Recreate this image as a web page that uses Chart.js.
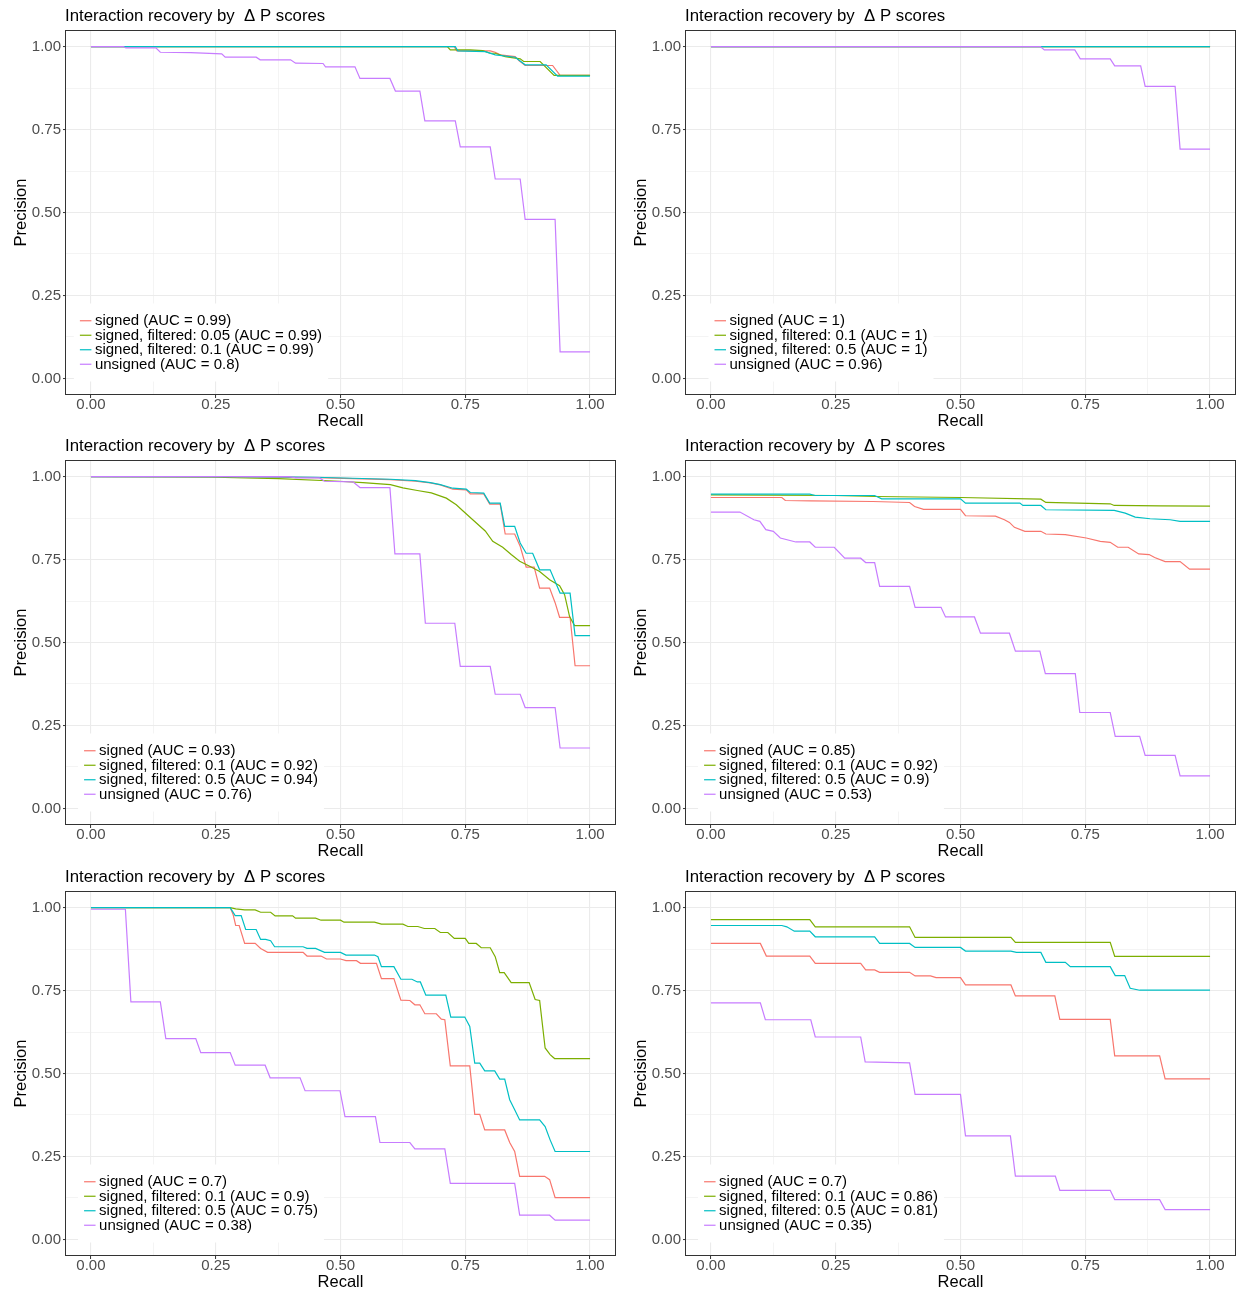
<!DOCTYPE html>
<html>
<head>
<meta charset="utf-8">
<title>Interaction recovery by Δ P scores</title>
<script src="https://cdn.jsdelivr.net/npm/chart.js@4.4.1/dist/chart.umd.min.js"></script>
<style>
  html, body { margin: 0; padding: 0; background: #fff; }
  #grid { position: relative; width: 1238px; height: 1291px; overflow: hidden; }
  .panel { position: absolute; }
</style>
</head>
<body>
<div id="grid"></div>
<script>
// six precision/recall panels, ggplot look
const FONT = '"Liberation Sans", Arial, sans-serif';
const TITLE = 'Interaction recovery by  \u0394 P scores';
const COLORS = ['#F8766D', '#7CAE00', '#00BFC4', '#C77CFF'];
const MAJOR_TICKS = [0, 0.25, 0.5, 0.75, 1];
const TICK_LABELS = ['0.00', '0.25', '0.50', '0.75', '1.00'];

// legend labels per panel
const p1Labels = ['signed (AUC = 0.99)', 'signed, filtered: 0.05 (AUC = 0.99)', 'signed, filtered: 0.1 (AUC = 0.99)', 'unsigned (AUC = 0.8)'];
const p2Labels = ['signed (AUC = 1)', 'signed, filtered: 0.1 (AUC = 1)', 'signed, filtered: 0.5 (AUC = 1)', 'unsigned (AUC = 0.96)'];
const p3Labels = ['signed (AUC = 0.93)', 'signed, filtered: 0.1 (AUC = 0.92)', 'signed, filtered: 0.5 (AUC = 0.94)', 'unsigned (AUC = 0.76)'];
const p4Labels = ['signed (AUC = 0.85)', 'signed, filtered: 0.1 (AUC = 0.92)', 'signed, filtered: 0.5 (AUC = 0.9)', 'unsigned (AUC = 0.53)'];
const p5Labels = ['signed (AUC = 0.7)', 'signed, filtered: 0.1 (AUC = 0.9)', 'signed, filtered: 0.5 (AUC = 0.75)', 'unsigned (AUC = 0.38)'];
const p6Labels = ['signed (AUC = 0.7)', 'signed, filtered: 0.1 (AUC = 0.86)', 'signed, filtered: 0.5 (AUC = 0.81)', 'unsigned (AUC = 0.35)'];

// [recall, precision] pairs
const p1Signed = [[0,1],[0.728,1],[0.733,0.987],[0.80,0.987],[0.81,0.983],[0.82,0.975],[0.85,0.97],[0.858,0.957],[0.87,0.943],[0.925,0.943],[0.94,0.913],[1,0.913]];
const p1Filt05 = [[0,1],[0.714,1],[0.72,0.99],[0.76,0.99],[0.785,0.988],[0.8,0.98],[0.81,0.98],[0.83,0.97],[0.86,0.963],[0.867,0.955],[0.9,0.955],[0.928,0.913],[1,0.913]];
const p1Filt01 = [[0,1],[0.73,1],[0.735,0.987],[0.79,0.985],[0.81,0.975],[0.85,0.968],[0.87,0.945],[0.912,0.945],[0.935,0.911],[1,0.911]];
const p1Unsigned = [[0,1],[0.065,1],[0.07,0.996],[0.13,0.996],[0.139,0.983],[0.2,0.982],[0.262,0.978],[0.269,0.968],[0.331,0.968],[0.339,0.96],[0.40,0.96],[0.41,0.95],[0.465,0.949],[0.47,0.939],[0.529,0.939],[0.539,0.904],[0.599,0.904],[0.61,0.866],[0.659,0.866],[0.669,0.776],[0.73,0.776],[0.74,0.698],[0.80,0.698],[0.81,0.601],[0.86,0.601],[0.87,0.479],[0.93,0.479],[0.94,0.08],[1,0.08]];

const p2Signed = [[0,1],[1,1]];
const p2Filt01 = [[0,1],[1,1]];
const p2Filt05 = [[0,1],[1,1]];
const p2Unsigned = [[0,1],[0.66,1],[0.668,0.99],[0.729,0.99],[0.74,0.963],[0.80,0.963],[0.809,0.942],[0.861,0.942],[0.87,0.88],[0.93,0.88],[0.94,0.691],[1,0.691]];

const p3Signed = [[0,1],[0.3,1],[0.45,0.997],[0.6,0.991],[0.65,0.986],[0.68,0.981],[0.70,0.975],[0.725,0.962],[0.752,0.96],[0.76,0.948],[0.787,0.948],[0.799,0.917],[0.82,0.917],[0.83,0.827],[0.849,0.827],[0.86,0.79],[0.872,0.727],[0.888,0.727],[0.899,0.664],[0.919,0.664],[0.93,0.62],[0.939,0.576],[0.96,0.576],[0.97,0.43],[1,0.43]];
const p3Filt01 = [[0,1],[0.15,0.999],[0.247,0.998],[0.376,0.994],[0.497,0.986],[0.545,0.982],[0.6,0.976],[0.625,0.966],[0.654,0.958],[0.682,0.951],[0.712,0.935],[0.732,0.915],[0.745,0.897],[0.765,0.87],[0.79,0.836],[0.805,0.805],[0.825,0.787],[0.842,0.765],[0.859,0.745],[0.879,0.73],[0.899,0.714],[0.919,0.689],[0.939,0.671],[0.949,0.644],[0.959,0.578],[0.969,0.551],[1,0.551]];
const p3Filt05 = [[0,1],[0.3,1],[0.45,0.998],[0.6,0.992],[0.65,0.988],[0.68,0.982],[0.70,0.976],[0.725,0.965],[0.752,0.962],[0.76,0.952],[0.787,0.95],[0.799,0.92],[0.82,0.92],[0.829,0.85],[0.849,0.85],[0.86,0.8],[0.872,0.769],[0.885,0.769],[0.899,0.719],[0.92,0.719],[0.94,0.649],[0.96,0.649],[0.97,0.521],[1,0.521]];
const p3Unsigned = [[0,1],[0.397,1],[0.41,0.996],[0.458,0.996],[0.468,0.986],[0.525,0.984],[0.539,0.967],[0.599,0.967],[0.609,0.767],[0.659,0.767],[0.67,0.558],[0.729,0.558],[0.74,0.428],[0.80,0.428],[0.81,0.344],[0.86,0.344],[0.87,0.304],[0.93,0.304],[0.94,0.182],[1,0.182]];

const p4Signed = [[0,0.937],[0.142,0.937],[0.149,0.928],[0.2,0.927],[0.324,0.925],[0.398,0.922],[0.408,0.91],[0.426,0.901],[0.5,0.901],[0.51,0.882],[0.57,0.881],[0.588,0.87],[0.598,0.862],[0.608,0.847],[0.629,0.835],[0.661,0.835],[0.671,0.827],[0.71,0.825],[0.752,0.815],[0.78,0.805],[0.8,0.802],[0.815,0.787],[0.836,0.787],[0.857,0.767],[0.878,0.765],[0.889,0.756],[0.91,0.744],[0.94,0.744],[0.959,0.721],[1,0.721]];
const p4Filt01 = [[0,0.945],[0.247,0.943],[0.33,0.94],[0.5,0.937],[0.661,0.932],[0.671,0.922],[0.8,0.918],[0.808,0.913],[0.9,0.912],[1,0.911]];
const p4Filt05 = [[0,0.947],[0.198,0.947],[0.209,0.943],[0.328,0.943],[0.342,0.933],[0.5,0.933],[0.51,0.92],[0.619,0.92],[0.625,0.913],[0.661,0.913],[0.671,0.9],[0.808,0.898],[0.83,0.89],[0.85,0.878],[0.88,0.873],[0.92,0.87],[0.94,0.865],[1,0.865]];
const p4Unsigned = [[0,0.893],[0.058,0.893],[0.086,0.87],[0.098,0.865],[0.11,0.84],[0.125,0.835],[0.139,0.815],[0.17,0.803],[0.198,0.803],[0.209,0.787],[0.247,0.787],[0.268,0.754],[0.3,0.754],[0.31,0.741],[0.328,0.741],[0.338,0.669],[0.398,0.669],[0.409,0.606],[0.461,0.606],[0.47,0.577],[0.528,0.577],[0.54,0.528],[0.598,0.528],[0.61,0.474],[0.659,0.474],[0.67,0.406],[0.73,0.406],[0.739,0.289],[0.8,0.289],[0.81,0.217],[0.859,0.217],[0.87,0.16],[0.93,0.16],[0.94,0.098],[1,0.098]];

const p5Signed = [[0,1],[0.279,1],[0.285,0.978],[0.29,0.946],[0.297,0.946],[0.308,0.892],[0.329,0.892],[0.34,0.877],[0.354,0.865],[0.425,0.865],[0.433,0.854],[0.461,0.854],[0.472,0.845],[0.5,0.845],[0.511,0.84],[0.532,0.84],[0.54,0.832],[0.572,0.832],[0.582,0.786],[0.607,0.786],[0.621,0.721],[0.639,0.72],[0.649,0.707],[0.659,0.707],[0.669,0.68],[0.692,0.68],[0.702,0.664],[0.709,0.662],[0.72,0.523],[0.759,0.523],[0.769,0.377],[0.779,0.377],[0.789,0.33],[0.829,0.33],[0.839,0.292],[0.849,0.265],[0.859,0.19],[0.909,0.19],[0.919,0.18],[0.93,0.126],[1,0.126]];
const p5Filt01 = [[0,1],[0.279,1],[0.29,0.996],[0.308,0.993],[0.329,0.993],[0.34,0.986],[0.36,0.986],[0.369,0.975],[0.404,0.975],[0.41,0.968],[0.45,0.968],[0.461,0.962],[0.5,0.962],[0.507,0.956],[0.568,0.956],[0.582,0.95],[0.625,0.95],[0.635,0.943],[0.655,0.943],[0.668,0.937],[0.689,0.937],[0.7,0.925],[0.715,0.925],[0.728,0.907],[0.75,0.907],[0.757,0.892],[0.772,0.892],[0.782,0.879],[0.8,0.879],[0.81,0.852],[0.819,0.804],[0.828,0.804],[0.842,0.774],[0.878,0.774],[0.89,0.723],[0.899,0.72],[0.91,0.577],[0.92,0.557],[0.929,0.545],[1,0.545]];
const p5Filt05 = [[0,1],[0.279,1],[0.289,0.976],[0.301,0.976],[0.31,0.934],[0.331,0.934],[0.34,0.904],[0.35,0.904],[0.36,0.9],[0.368,0.882],[0.425,0.882],[0.433,0.877],[0.45,0.877],[0.468,0.865],[0.5,0.865],[0.511,0.857],[0.568,0.857],[0.575,0.852],[0.582,0.822],[0.607,0.822],[0.621,0.784],[0.643,0.784],[0.654,0.776],[0.66,0.776],[0.671,0.736],[0.711,0.736],[0.721,0.67],[0.749,0.67],[0.759,0.642],[0.769,0.531],[0.779,0.531],[0.789,0.508],[0.809,0.508],[0.819,0.483],[0.829,0.483],[0.839,0.421],[0.849,0.391],[0.859,0.36],[0.899,0.36],[0.91,0.34],[0.92,0.3],[0.93,0.265],[1,0.265]];
const p5Unsigned = [[0,0.995],[0.069,0.995],[0.08,0.716],[0.139,0.716],[0.15,0.605],[0.21,0.605],[0.22,0.563],[0.279,0.563],[0.289,0.525],[0.349,0.525],[0.359,0.487],[0.419,0.487],[0.429,0.448],[0.499,0.448],[0.509,0.37],[0.57,0.37],[0.579,0.292],[0.639,0.292],[0.649,0.273],[0.709,0.273],[0.72,0.169],[0.849,0.169],[0.859,0.073],[0.919,0.073],[0.93,0.058],[1,0.058]];

const p6Signed = [[0,0.892],[0.099,0.892],[0.111,0.854],[0.198,0.854],[0.209,0.832],[0.3,0.832],[0.31,0.812],[0.328,0.812],[0.338,0.805],[0.398,0.805],[0.409,0.794],[0.44,0.794],[0.451,0.789],[0.5,0.789],[0.51,0.767],[0.601,0.767],[0.61,0.734],[0.689,0.734],[0.699,0.663],[0.8,0.663],[0.809,0.553],[0.899,0.553],[0.91,0.484],[1,0.484]];
const p6Filt01 = [[0,0.964],[0.198,0.964],[0.209,0.942],[0.398,0.942],[0.409,0.91],[0.601,0.91],[0.61,0.895],[0.8,0.895],[0.809,0.853],[1,0.853]];
const p6Filt05 = [[0,0.946],[0.142,0.946],[0.152,0.942],[0.167,0.929],[0.198,0.929],[0.209,0.912],[0.328,0.912],[0.338,0.892],[0.398,0.892],[0.409,0.88],[0.5,0.88],[0.51,0.869],[0.601,0.869],[0.612,0.865],[0.661,0.865],[0.671,0.835],[0.71,0.835],[0.72,0.822],[0.8,0.822],[0.81,0.795],[0.829,0.795],[0.84,0.757],[0.859,0.751],[1,0.751]];
const p6Unsigned = [[0,0.713],[0.099,0.713],[0.109,0.662],[0.2,0.662],[0.209,0.61],[0.3,0.61],[0.309,0.535],[0.398,0.532],[0.409,0.437],[0.5,0.437],[0.51,0.312],[0.6,0.312],[0.61,0.191],[0.69,0.191],[0.699,0.148],[0.8,0.148],[0.809,0.12],[0.899,0.12],[0.91,0.09],[1,0.09]];

const panels = [
  { labels: p1Labels, series: [p1Signed, p1Filt05, p1Filt01, p1Unsigned] },
  { labels: p2Labels, series: [p2Signed, p2Filt01, p2Filt05, p2Unsigned] },
  { labels: p3Labels, series: [p3Signed, p3Filt01, p3Filt05, p3Unsigned] },
  { labels: p4Labels, series: [p4Signed, p4Filt01, p4Filt05, p4Unsigned] },
  { labels: p5Labels, series: [p5Signed, p5Filt01, p5Filt05, p5Unsigned] },
  { labels: p6Labels, series: [p6Signed, p6Filt01, p6Filt05, p6Unsigned] },
];

const PANEL_W = 619, PANEL_H = 430;
const ROW_TOP = [0, 430, 861];
const COL_LEFT = [0, 620];

const isMajor = v => MAJOR_TICKS.some(t => Math.abs(t - v) < 1e-9);

// title above the panel, left aligned with the panel box
const panelTitle = {
  id: 'panelTitle',
  afterDraw(chart, args, opts) {
    const { ctx, chartArea } = chart;
    ctx.save();
    ctx.font = `16.8px ${FONT}`;
    ctx.fillStyle = '#000';
    ctx.textAlign = 'left';
    ctx.textBaseline = 'middle';
    ctx.fillText(opts.text, chartArea.left - 1, 16);
    ctx.restore();
  }
};

// grey box around the plotting area
const panelBorder = {
  id: 'panelBorder',
  afterDatasetsDraw(chart) {
    const { ctx, chartArea: a } = chart;
    ctx.save();
    ctx.strokeStyle = '#333333';
    ctx.lineWidth = 1;
    ctx.strokeRect(Math.round(a.left) - 0.5, Math.round(a.top) + 0.5,
      Math.round(a.right - a.left) + 1, Math.round(a.bottom - a.top) - 1);
    ctx.restore();
  }
};

// legend inside the panel, bottom left, white background
const insetLegend = {
  id: 'insetLegend',
  afterDraw(chart, args, opts) {
    const { ctx, chartArea } = chart;
    const items = chart.data.datasets;
    ctx.save();
    ctx.font = `15px ${FONT}`;
    const textW = Math.max(...items.map(d => ctx.measureText(d.label).width));
    const w = opts.keyLen + opts.gap + textW + 2 * opts.padX;
    const h = items.length * opts.rowH + 2 * opts.padY;
    const x0 = chartArea.left + opts.centerX - w / 2;
    const y0 = chartArea.bottom - opts.centerFromBottom - h / 2;
    ctx.fillStyle = '#fff';
    ctx.fillRect(x0, y0, w, h);
    items.forEach((d, i) => {
      const y = y0 + opts.padY + opts.rowH * (i + 0.5);
      const kx = x0 + opts.padX;
      ctx.strokeStyle = d.borderColor;
      ctx.lineWidth = 1.2;
      ctx.beginPath();
      ctx.moveTo(kx, y);
      ctx.lineTo(kx + opts.keyLen, y);
      ctx.stroke();
      ctx.fillStyle = '#000';
      ctx.textAlign = 'left';
      ctx.textBaseline = 'middle';
      ctx.fillText(d.label, kx + opts.keyLen + opts.gap, y + 0.5);
    });
    ctx.restore();
  }
};

function axis(title, isX) {
  return {
    type: 'linear',
    min: -0.05,
    max: 1.05,
    border: { display: false },
    grid: {
      color: '#EBEBEB',
      lineWidth: c => (c.tick && isMajor(c.tick.value)) ? 1.1 : 0.55,
      tickColor: c => (c.tick && isMajor(c.tick.value)) ? '#333333' : 'rgba(0,0,0,0)',
      tickWidth: 1,
      tickLength: 3,
    },
    ticks: {
      stepSize: 0.125,
      includeBounds: false,
      autoSkip: false,
      maxRotation: 0,
      padding: isX ? -0.5 : 2,
      color: '#4D4D4D',
      font: { family: FONT, size: 15, lineHeight: 1 },
      callback: v => {
        const i = MAJOR_TICKS.findIndex(t => Math.abs(t - v) < 1e-9);
        return i >= 0 ? TICK_LABELS[i] : '';
      }
    },
    title: {
      display: true,
      text: title,
      color: '#000',
      font: { family: FONT, size: 16.5 },
      padding: isX ? { top: 0, bottom: -1.5 } : { top: 11.5, bottom: 0 }
    },
    afterFit: s => { if (isX) s.height = 35; else s.width = 66; }
  };
}

const grid = document.getElementById('grid');

panels.forEach((p, i) => {
  const div = document.createElement('div');
  div.className = 'panel';
  div.style.left = COL_LEFT[i % 2] + 'px';
  div.style.top = ROW_TOP[Math.floor(i / 2)] + 'px';
  const canvas = document.createElement('canvas');
  canvas.width = PANEL_W;
  canvas.height = PANEL_H;
  div.appendChild(canvas);
  grid.appendChild(div);

  new Chart(canvas.getContext('2d'), {
    type: 'scatter',
    data: {
      datasets: p.series.map((s, k) => ({
        label: p.labels[k],
        data: s.map(([x, y]) => ({ x, y })),
        showLine: true,
        borderColor: COLORS[k],
        backgroundColor: COLORS[k],
        borderWidth: 1.2,
        pointRadius: 0,
        pointHoverRadius: 0,
        tension: 0,
        order: 3 - k, // later series on top, like ggplot
      }))
    },
    options: {
      responsive: false,
      devicePixelRatio: 1,
      animation: false,
      events: [],
      layout: { padding: { top: 30, right: 4, bottom: 0, left: 0 } },
      scales: {
        x: axis('Recall', true),
        y: axis('Precision', false),
      },
      plugins: {
        legend: { display: false },
        tooltip: { enabled: false },
        panelTitle: { text: TITLE },
        insetLegend: { keyLen: 11.5, gap: 3.5, padX: 6, padY: 10, rowH: 14.5, centerX: 135, centerFromBottom: 52.5 },
      }
    },
    plugins: [panelBorder, insetLegend, panelTitle]
  });
});
</script>
</body>
</html>
